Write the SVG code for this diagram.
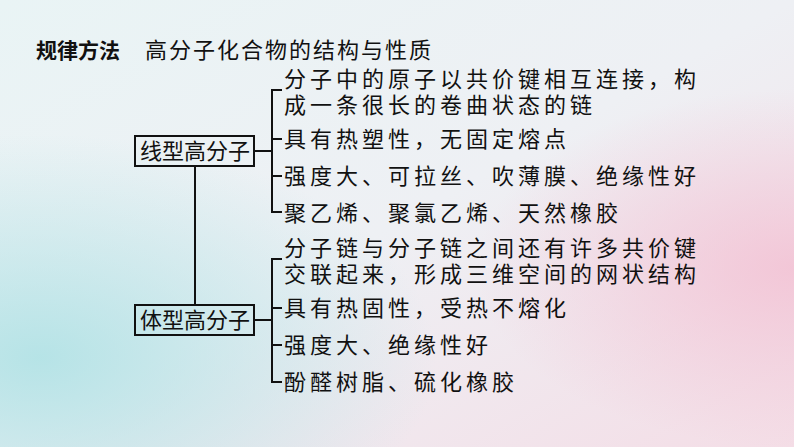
<svg xmlns="http://www.w3.org/2000/svg" width="794" height="447" viewBox="0 0 794 447">
<defs>
<linearGradient id="bg" x1="0" y1="0" x2="1" y2="1">
<stop offset="0" stop-color="#e9f4f5"/>
<stop offset="0.5" stop-color="#eef0f4"/>
<stop offset="1" stop-color="#f4dde6"/>
</linearGradient>
<radialGradient id="cy" cx="0.05" cy="0.8" r="0.5">
<stop offset="0" stop-color="#a8e0e3" stop-opacity="0.8"/>
<stop offset="1" stop-color="#a8e0e3" stop-opacity="0"/>
</radialGradient>
<radialGradient id="pk" cx="1" cy="0.6" r="0.4">
<stop offset="0" stop-color="#f3bfd2" stop-opacity="0.8"/>
<stop offset="1" stop-color="#f3bfd2" stop-opacity="0"/>
</radialGradient>
<style>
text{font-family:"Noto Sans CJK SC",sans-serif;font-size:22px;letter-spacing:4px;fill:#111}
.bx{font-size:22px;letter-spacing:0}
.b{fill:none;stroke:#111;stroke-width:2}
.box{fill:none;stroke:#111;stroke-width:2}
</style>
</defs>
<rect width="794" height="447" fill="url(#bg)"/>
<rect width="794" height="447" fill="url(#cy)"/>
<rect width="794" height="447" fill="url(#pk)"/>
<g id="title">
<text x="36" y="58" font-weight="bold" style="font-size:21px;letter-spacing:0">规律方法</text>
<text x="145" y="58" style="letter-spacing:2px">高分子化合物的结构与性质</text>
</g>
<g id="connectors">
<path class="b" d="M195 166V305"/>
<path class="b" d="M254 151H272M282 90H272V212H282M272 139H282M272 176H282"/>
<path class="b" d="M254 320H272M282 259H272V382H282M272 308H282M272 345H282"/>
</g>
<g id="n1"><rect class="box" x="135" y="136" width="119" height="30"/><text class="bx" x="140" y="159">线型高分子</text></g>
<g id="n2"><rect class="box" x="135" y="305" width="119" height="30"/><text class="bx" x="140" y="328">体型高分子</text></g>
<g id="l1">
<text x="284" y="87">分子中的原子以共价键相互连接，构</text>
<text x="284" y="113">成一条很长的卷曲状态的链</text>
<text x="284" y="147">具有热塑性，无固定熔点</text>
<text x="284" y="184">强度大、可拉丝、吹薄膜、绝缘性好</text>
<text x="284" y="221">聚乙烯、聚氯乙烯、天然橡胶</text>
</g>
<g id="l2">
<text x="284" y="256">分子链与分子链之间还有许多共价键</text>
<text x="284" y="282">交联起来，形成三维空间的网状结构</text>
<text x="284" y="316">具有热固性，受热不熔化</text>
<text x="284" y="353">强度大、绝缘性好</text>
<text x="284" y="390">酚醛树脂、硫化橡胶</text>
</g>
</svg>
